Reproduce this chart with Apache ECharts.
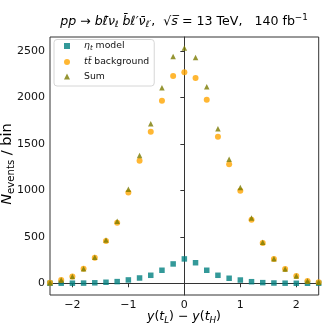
<!DOCTYPE html>
<html>
<head>
<meta charset="utf-8">
<script src="https://cdn.jsdelivr.net/npm/echarts@6/dist/echarts.min.js"></script>
<style>html,body{margin:0;padding:0;background:#fff}#c{width:332px;height:332px}</style>
</head>
<body>
<div id="c"></div>
<script>
// x bin centres: y(t_L) - y(t_H)
const xValues = [-2.4,-2.2,-2.0,-1.8,-1.6,-1.4,-1.2,-1.0,-0.8,-0.6,-0.4,-0.2,0.0,0.2,0.4,0.6,0.8,1.0,1.2,1.4,1.6,1.8,2.0,2.2,2.4];
// eta_t model
const etaModel = [0,1,1,2,5,11,18,36,57,86,140,208,262,221,140,86,54,35,17,7,3,1,0,0,0];
// ttbar background
const ttBackground = [6,34,73,155,274,455,650,975,1318,1630,1963,2229,2268,2207,1974,1576,1279,996,684,434,262,153,77,25,10];
// Sum
const sumValues = [6,35,74,157,279,466,668,1011,1375,1716,2103,2437,2530,2428,2114,1662,1333,1031,701,441,265,154,77,25,10];
const seriesNames = ['eta','tt','Sum'];
const xTicks = [-2,-1,0,1,2];
const yTicks = [0,500,1000,1500,2000,2500];

const FF = 'DejaVu Sans';
function richFor(size){
  const s = size*0.7;
  return {
    i: {fontStyle:'italic', fontFamily:FF, fontSize:size},
    sub: {fontStyle:'italic', fontFamily:FF, fontSize:s, padding:[Math.round(size*0.55),0,0,0]},
    subn: {fontFamily:FF, fontSize:s, padding:[Math.round(size*0.55),0,0,0]},
    sup: {fontFamily:FF, fontSize:s, padding:[0,0,Math.round(size*0.65),0]}
  };
}
const pair = arr => xValues.map((x,k)=>[x, arr[k]]);
const chart = echarts.init(document.getElementById('c'), null, {renderer:'canvas'});
chart.setOption({
  animation:false,
  backgroundColor:'#fff',
  grid:{left:50, right:13.3, top:37, bottom:37, show:true, borderColor:'#333', borderWidth:1, containLabel:false},
  xAxis:{
    type:'value', min:-2.4, max:2.4,
    axisLine:{show:true, lineStyle:{color:'#333', width:1}},
    splitLine:{show:false},
    axisTick:{show:true, length:4, inside:false, customValues:xTicks, lineStyle:{color:'#333'}},
    axisLabel:{customValues:xTicks, fontFamily:FF, fontSize:11, color:'#111', margin:5,
      formatter:v=>String(v).replace('-','\u2212')}
  },
  yAxis:{
    type:'value', min:-126, max:2648,
    axisLine:{show:true, lineStyle:{color:'#333', width:1}},
    splitLine:{show:false},
    axisTick:{show:true, length:4, inside:false, customValues:yTicks, lineStyle:{color:'#333'}},
    axisLabel:{customValues:yTicks, fontFamily:FF, fontSize:11, color:'#111', margin:5,
      formatter:v=>String(v)}
  },
  legend:{
    orient:'vertical', left:54, top:39.5, padding:[2,5,5,10],
    itemWidth:6, itemHeight:6, itemGap:5.5,
    backgroundColor:'rgba(255,255,255,0.8)', borderColor:'#d6d6d6', borderWidth:1, borderRadius:3,
    data:seriesNames,
    textStyle:{fontFamily:FF, fontSize:9.3, color:'#111', rich:{
      gap:{width:9, fontSize:9.3},
      i:{fontStyle:'italic', fontFamily:FF, fontSize:9.3, color:'#111'},
      sub:{fontStyle:'italic', fontFamily:FF, fontSize:7, padding:[5,0,0,0], color:'#111'}
    }},
    formatter:n=> '{gap| }' + (n==='eta' ? '{i|η}{sub|t} model' : (n==='tt' ? '{i|tt\u0304} background' : n))
  },
  series:[
    {name:seriesNames[0], type:'scatter', data:pair(etaModel), symbol:'rect', symbolSize:5.5, itemStyle:{color:'#008080'}},
    {name:seriesNames[1], type:'scatter', data:pair(ttBackground), symbol:'circle', symbolSize:6, itemStyle:{color:'#FFA500'}},
    {name:seriesNames[2], type:'scatter', data:pair(sumValues), symbol:'triangle', symbolSize:5.5, itemStyle:{color:'#7a7a00'}}
  ],
  graphic:[
    {type:'text', x:184, y:21.5, style:{
      text:'{i|pp} \u2192 {i|b\u2113\u0304\u03bd}{sub|\u2113} {i|b\u0304\u2113\u2032\u03bd\u0304}{sub|\u2113\u2032},  \u221a{i|s\u0305} = 13 TeV,   140 fb{sup|\u22121}',
      rich:richFor(12.6), fontFamily:FF, fontSize:12.6, fill:'#000', align:'center', verticalAlign:'middle'}},
    {type:'text', x:184, y:317, style:{
      text:'{i|y}({i|t}{sub|L}) \u2212 {i|y}({i|t}{sub|H})',
      rich:richFor(12.5), fontFamily:FF, fontSize:12.5, fill:'#000', align:'center', verticalAlign:'middle'}},
    {type:'text', x:7, y:164, rotation:Math.PI/2, style:{
      text:'{i|N}{subn|events} / bin',
      rich:richFor(14.5), fontFamily:FF, fontSize:14.5, fill:'#000', align:'center', verticalAlign:'middle'}}
  ]
});
</script>
</body>
</html>
